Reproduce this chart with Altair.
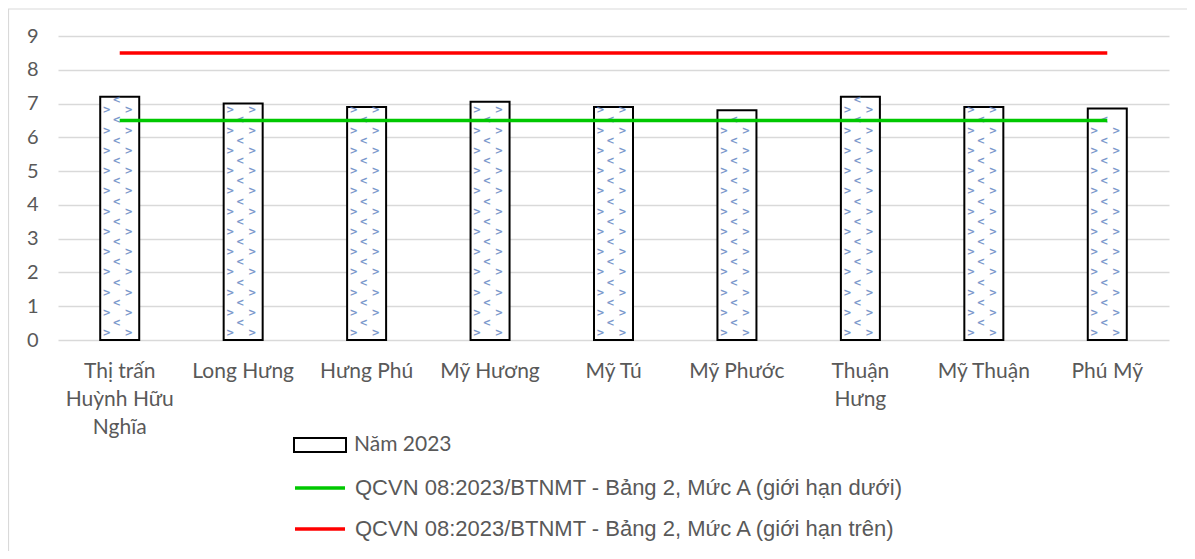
import altair as alt
import pandas as pd

categories = ["Thị trấn Huỳnh Hữu Nghĩa", "Long Hưng", "Hưng Phú", "Mỹ Hương",
              "Mỹ Tú", "Mỹ Phước", "Thuận Hưng", "Mỹ Thuận", "Phú Mỹ"]
label_lines = [["Thị trấn", "Huỳnh Hữu", "Nghĩa"], ["Long Hưng"], ["Hưng Phú"], ["Mỹ  Hương"],
               ["Mỹ Tú"], ["Mỹ Phước"], ["Thuận", "Hưng"], ["Mỹ Thuận"], ["Phú Mỹ"]]
values_2023 = [7.2, 7.0, 6.9, 7.05, 6.9, 6.8, 7.2, 6.9, 6.85]
lower_limit = [6.5, 6.5, 6.5, 6.5, 6.5, 6.5, 6.5, 6.5, 6.5]
upper_limit = [8.5, 8.5, 8.5, 8.5, 8.5, 8.5, 8.5, 8.5, 8.5]
y_ticks = [0, 1, 2, 3, 4, 5, 6, 7, 8, 9]

s_bar = "Năm 2023"
s_low = "QCVN 08:2023/BTNMT - Bảng 2, Mức A (giới hạn dưới)"
s_up = "QCVN 08:2023/BTNMT - Bảng 2, Mức A (giới hạn trên)"

df_bar = pd.DataFrame({"cat": categories, "value": values_2023, "series": s_bar})
df_low = pd.DataFrame({"cat": categories, "value": lower_limit, "series": s_low})
df_up = pd.DataFrame({"cat": categories, "value": upper_limit, "series": s_up})

# multi-line labels
expr = "datum.label"
for name, lines in zip(categories, label_lines):
    if len(lines) > 1 or lines[0] != name:
        arr = "[" + ",".join("'" + l + "'" for l in lines) + "]"
        expr = f"datum.label == '{name}' ? {arr} : ({expr})"

GREY = "#595959"
x_axis = alt.Axis(labelAngle=0, labelExpr=expr, labelFont="Lato", labelFontSize=21,
                  labelColor=GREY, labelLineHeight=28, labelPadding=20,
                  domain=False, ticks=False, grid=False, labelBaseline="top")
y_axis = alt.Axis(values=y_ticks, labelFont="Lato", labelFontSize=20, labelOverlap=False,
                  labelColor=GREY, labelPadding=20, domain=False, ticks=False,
                  grid=True, gridColor="#d9d9d9", gridWidth=1.3)
y_scale = alt.Scale(domain=[0, 9], nice=False)
x_scale = alt.Scale(paddingInner=0, paddingOuter=0)


def X():
    return alt.X("cat:N", sort=categories, title=None, scale=x_scale, axis=x_axis)


def Y(field):
    return alt.Y(field, title=None, scale=y_scale, axis=y_axis)


bars = alt.Chart(df_bar).mark_bar(size=39, stroke="black", strokeWidth=2).encode(
    x=X(), y=Y("value:Q"),
    color=alt.Color("series:N", scale=alt.Scale(domain=[s_bar], range=["white"]),
                    legend=alt.Legend(title=None, orient="none", legendX=235, legendY=382,
                                      symbolType="M-1,-0.27H1V0.27H-1Z", symbolSize=2704,
                                      symbolFillColor="#edf2fa", symbolStrokeColor="black",
                                      symbolStrokeWidth=2, labelFont="Lato", labelFontSize=21,
                                      labelColor=GREY, labelOffset=7, padding=0)),
)

PAT = "#5b7fc0"
pat_a = alt.Chart(df_bar).transform_calculate(
    rows="sequence(0.2, datum.value - 0.1, 0.6)").transform_flatten(["rows"])
pat_b = alt.Chart(df_bar).transform_calculate(
    rows="sequence(0.5, datum.value - 0.1, 0.6)").transform_flatten(["rows"])


def pat_layer(base, glyph, dx):
    return base.mark_text(text=glyph, dx=dx, fontSize=10, font="DejaVu Sans", color=PAT,
                          baseline="middle", align="center", fontWeight="bold",
                          opacity=0.8).encode(x=X(), y=Y("rows:Q"))


p1 = pat_layer(pat_a, ">", -13)
p2 = pat_layer(pat_a, ">", 9)
p3 = pat_layer(pat_b, "<", -3)


def line_layer(df, series, col, ly):
    return alt.Chart(df).mark_line(strokeWidth=3.5).encode(
        x=X(), y=Y("value:Q"),
        color=alt.Color("series:N", scale=alt.Scale(domain=[series], range=[col]),
                        legend=alt.Legend(title=None, orient="none", legendX=235, legendY=ly,
                                          symbolType="stroke", symbolSize=2500,
                                          symbolStrokeWidth=3.5, labelFont="Liberation Sans",
                                          labelFontSize=22, labelColor=GREY, labelOffset=8,
                                          padding=0, labelLimit=800)),
    )


green = line_layer(df_low, s_low, "#00c800", 425)
red = line_layer(df_up, s_up, "#ff0000", 466)

border = alt.Chart(df_bar.head(1)).mark_rect(fill=None, stroke="#d9d9d9", strokeWidth=1.2).encode(
    x=alt.value(-49.5), x2=alt.value(1140), y=alt.value(-27), y2=alt.value(530))

chart = alt.layer(border, bars, p1, p2, p3, green, red).resolve_scale(
    color="independent").properties(
    width=1111, height=304,
    autosize=alt.AutoSizeParams(type="none"),
    padding={"left": 50, "top": 28, "right": 18, "bottom": 211},
).configure_view(stroke=None)

chart.save("out.html", embed_options={"renderer": "svg", "actions": False})
